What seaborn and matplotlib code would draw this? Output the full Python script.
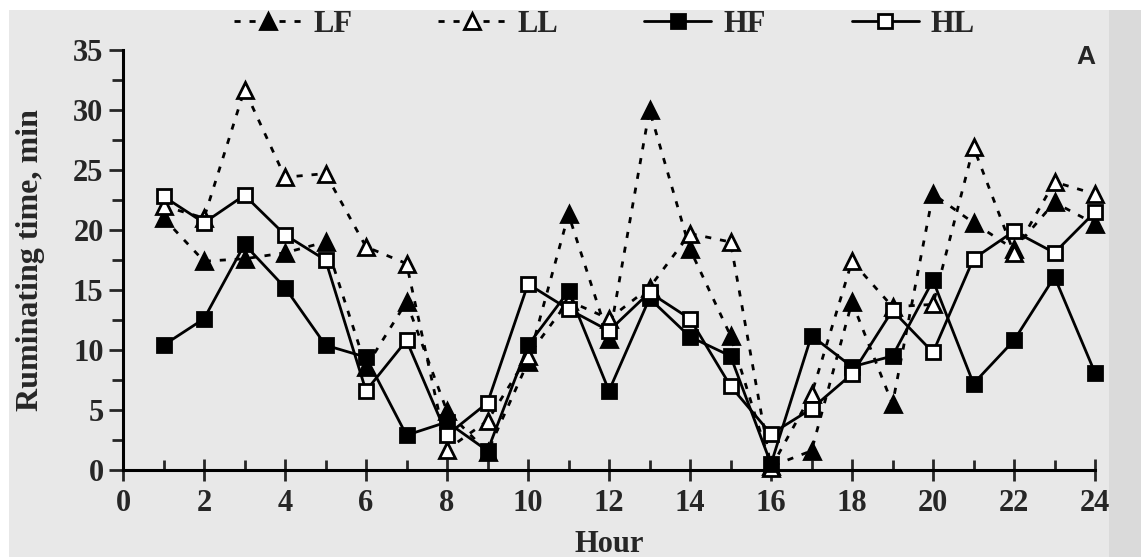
import matplotlib
matplotlib.use("Agg")
import matplotlib.pyplot as plt
import seaborn as sns
import pandas as pd
from matplotlib.patches import Rectangle
from matplotlib.ticker import MultipleLocator

hours = list(range(1, 25))
LF = [21.0, 17.4, 17.6, 18.1, 19.0, 8.6, 14.0, 4.9, 1.5, 9.0, 21.3, 10.9,
      30.0, 18.4, 11.2, 0.3, 1.6, 14.0, 5.5, 23.0, 20.6, 18.4, 22.3, 20.5]
LL = [22.0, 21.0, 31.7, 24.4, 24.7, 18.6, 17.2, 1.7, 4.1, 9.5, 14.1, 12.6,
      15.2, 19.7, 19.0, 0.2, 6.3, 17.4, 13.6, 13.8, 26.9, 18.1, 24.0, 23.0]
HF = [10.4, 12.6, 18.8, 15.2, 10.4, 9.4, 2.9, 4.0, 1.6, 10.4, 14.9, 6.6,
      14.3, 11.1, 9.5, 0.5, 11.2, 8.6, 9.5, 15.8, 7.2, 10.8, 16.1, 8.1]
HL = [22.8, 20.6, 22.9, 19.6, 17.5, 6.6, 10.8, 2.9, 5.6, 15.5, 13.4, 11.6,
      14.8, 12.6, 7.0, 3.0, 5.1, 8.0, 13.3, 9.8, 17.6, 19.9, 18.1, 21.5]
series_names = ["LF", "LL", "HF", "HL"]
x_ticks = [0, 2, 4, 6, 8, 10, 12, 14, 16, 18, 20, 22, 24]
y_ticks = [0, 5, 10, 15, 20, 25, 30, 35]

df = pd.DataFrame({
    "Hour": hours * 4,
    "value": LF + LL + HF + HL,
    "series": sum([[s] * len(hours) for s in series_names], []),
})

sns.set_theme(style="ticks")
plt.rcParams["font.family"] = ["Liberation Serif", "DejaVu Serif"]
plt.rcParams["font.weight"] = "bold"

W, H = 1141, 557
fig = plt.figure(figsize=(W / 100, H / 100), dpi=100)
fig.patch.set_facecolor("#e8e8e8")
fig.patches.append(Rectangle((0, 1 - 10 / H), 1, 10 / H, transform=fig.transFigure,
                             facecolor="white", edgecolor="none", zorder=-5))
fig.patches.append(Rectangle((0, 0), 9 / W, 1, transform=fig.transFigure,
                             facecolor="white", edgecolor="none", zorder=-5))
fig.patches.append(Rectangle((1109 / W, 0), 1 - 1109 / W, 1 - 10 / H, transform=fig.transFigure,
                             facecolor="#dadada", edgecolor="none", zorder=-5))

ax = fig.add_axes([123 / W, 1 - 470 / H, (1095 - 123) / W, (470 - 50) / H])
ax.set_facecolor("none")

styles = {
    "LF": dict(marker="^", markerfacecolor="black", linestyle=(0, (2.2, 3.2)), markersize=11),
    "LL": dict(marker="^", markerfacecolor="white", linestyle=(0, (2.2, 3.2)), markersize=11),
    "HF": dict(marker="s", markerfacecolor="black", linestyle="-", markersize=9.5),
    "HL": dict(marker="s", markerfacecolor="white", linestyle="-", markersize=9.5),
}
for s in series_names:
    st = styles[s]
    sns.lineplot(data=df[df["series"] == s], x="Hour", y="value", ax=ax,
                 color="black", linewidth=2.0, markeredgecolor="black",
                 markeredgewidth=2.0, clip_on=False, label=s, **st)

ax.set_xlim(0, 24)
ax.set_ylim(0, 35)
ax.set_xticks(x_ticks)
ax.set_yticks(y_ticks)
ax.xaxis.set_minor_locator(MultipleLocator(1))
ax.yaxis.set_minor_locator(MultipleLocator(2.5))
for lab in ax.get_xticklabels() + ax.get_yticklabels():
    lab.set_fontsize(22)
    lab.set_fontweight("bold")
ax.tick_params(axis="x", which="major", direction="inout", length=16, width=2, pad=6)
ax.tick_params(axis="x", which="minor", direction="in", length=7, width=2)
ax.tick_params(axis="y", which="major", direction="out", length=10, width=2, pad=4)
ax.tick_params(axis="y", which="minor", direction="out", length=8, width=2)
for sp in ["top", "right"]:
    ax.spines[sp].set_visible(False)
for sp in ["left", "bottom"]:
    ax.spines[sp].set_linewidth(2.2)
    ax.spines[sp].set_color("black")

ax.set_xlabel("Hour", fontsize=22, fontweight="bold", labelpad=8)
ax.set_ylabel("Ruminating time, min", fontsize=23, fontweight="bold", labelpad=20)

ax.text(1086 / W, 1 - 57 / H, "A", transform=fig.transFigure, ha="center", va="center",
        fontsize=19, fontweight="bold", family=["Liberation Sans", "DejaVu Sans"])

handles, labels = ax.get_legend_handles_labels()
ax.get_legend().remove()
fig.legend(handles, labels, loc="center", bbox_to_anchor=(0.53, 1 - 24 / H), ncol=4,
           frameon=False, handlelength=2.2, handletextpad=0.4, columnspacing=2.8,
           prop={"family": "Liberation Serif", "weight": "bold", "size": 22})

fig.savefig("out.png", dpi=100, facecolor=fig.get_facecolor())
